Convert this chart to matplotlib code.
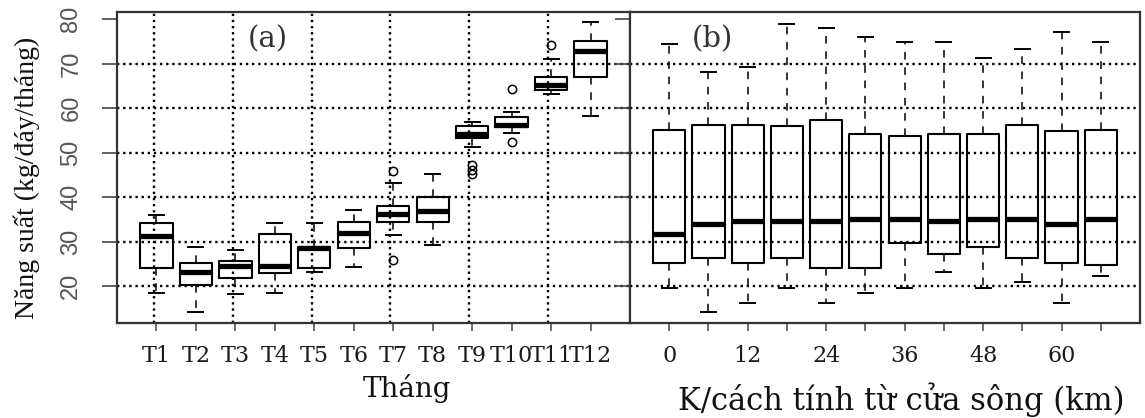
import matplotlib
matplotlib.use("Agg")
import matplotlib.pyplot as plt

# ---------------- data ----------------
months = ["T1", "T2", "T3", "T4", "T5", "T6", "T7", "T8", "T9", "T10", "T11", "T12"]
m_lo  = [18.4, 14.2, 18.2, 18.4, 23.2, 24.3, 31.5, 29.2, 51.3, 54.5, 63.1, 58.2]
m_q1  = [24.1, 20.2, 21.9, 23.0, 24.0, 28.5, 34.4, 34.5, 53.2, 55.7, 64.1, 66.9]
m_med = [31.2, 23.2, 24.4, 24.6, 28.5, 32.0, 36.3, 36.9, 54.2, 56.3, 65.2, 72.9]
m_q3  = [34.2, 25.2, 25.6, 31.8, 28.8, 34.3, 38.1, 40.0, 55.9, 58.0, 66.9, 75.1]
m_hi  = [36.0, 28.8, 28.2, 34.2, 34.2, 37.1, 43.2, 45.3, 56.9, 59.2, 71.0, 79.4]
m_fliers = [[], [], [], [], [], [], [45.9, 25.8], [], [47.2, 46.2, 45.3],
            [64.2, 52.3], [74.2], []]

dist_km = [0, 6, 12, 18, 24, 30, 36, 42, 48, 54, 60, 66]
dist_labels = ["0", "", "12", "", "24", "", "36", "", "48", "", "60", ""]
d_lo  = [19.5, 14.1, 16.3, 19.5, 16.3, 18.4, 19.5, 23.2, 19.5, 21.0, 16.3, 22.2]
d_q1  = [25.1, 26.4, 25.1, 26.4, 24.1, 24.1, 29.6, 27.1, 28.8, 26.4, 25.1, 24.7]
d_med = [31.7, 33.9, 34.7, 34.7, 34.7, 35.1, 35.1, 34.7, 35.1, 35.1, 33.9, 35.1]
d_q3  = [55.1, 56.2, 56.2, 56.0, 57.3, 54.2, 53.7, 54.2, 54.2, 56.2, 54.8, 55.1]
d_hi  = [74.5, 68.2, 69.3, 79.0, 77.9, 76.0, 74.9, 74.9, 71.2, 73.2, 77.2, 74.9]

y_grid = [20, 30, 40, 50, 60, 70]
y_ticks = [20, 30, 40, 50, 60, 70, 80]

# ---------------- figure ----------------
W, H = 1145, 418
fig = plt.figure(figsize=(W / 100, H / 100), dpi=100)
L, M, R = 117 / W, 630 / W, 1140 / W
B, T = 1 - 323 / H, 1 - 12 / H
axA = fig.add_axes([L, B, M - L, T - B])
axB = fig.add_axes([M, B, R - M, T - B])

dot = (0, (1.0, 1.6))
box_kw = dict(
    widths=0.82, capwidths=0.38, showfliers=True, patch_artist=False,
    boxprops=dict(color="black", linewidth=1.5),
    medianprops=dict(color="black", linewidth=3.8, solid_capstyle="butt"),
    whiskerprops=dict(color="black", linewidth=1.1, linestyle=(0, (5, 5))),
    capprops=dict(color="black", linewidth=1.4),
    flierprops=dict(marker="o", markerfacecolor="none", markeredgecolor="black",
                    markersize=6, markeredgewidth=1.1),
)


def stats(lo, q1, med, q3, hi, fl):
    return [dict(whislo=a, q1=b, med=c, q3=d, whishi=e, fliers=f)
            for a, b, c, d, e, f in zip(lo, q1, med, q3, hi, fl)]


posA = list(range(1, len(months) + 1))
posB = list(range(1, len(dist_km) + 1))

for ax in (axA, axB):
    for g in y_grid:
        ax.axhline(g, color="black", linestyle=dot, linewidth=1.7, zorder=0)

for p in posA[::2]:
    axA.axvline(p - 0.07, color="black", linestyle=dot, linewidth=1.7, zorder=0)

axA.bxp(stats(m_lo, m_q1, m_med, m_q3, m_hi, m_fliers), positions=posA, **box_kw)
axB.bxp(stats(d_lo, d_q1, d_med, d_q3, d_hi, [[]] * len(dist_km)), positions=posB, **box_kw)

for ax in (axA, axB):
    ax.set_xlim(0, 13)
    ax.set_ylim(11.7, 81.6)
    for s in ax.spines.values():
        s.set_color("#333333")
        s.set_linewidth(1.6)
    ax.tick_params(axis="x", length=6, width=1.2, color="#555555", pad=10,
                   labelsize=16, labelcolor="#1a1a1a")
    ax.set_yticks(y_ticks)

axA.set_xticks(posA)
axA.set_xticklabels(months, family="DejaVu Serif")
axB.set_xticks(posB)
axB.set_xticklabels(dist_labels, family="DejaVu Serif")

axA.tick_params(axis="y", length=11, width=1.2, color="#444444", pad=14,
                labelsize=17, labelcolor="#555555")
for lab in axA.get_yticklabels():
    lab.set_rotation(90)
    lab.set_va("center")
    lab.set_family(["Liberation Sans Narrow", "Liberation Sans"])

axB.tick_params(axis="y", length=11, width=1.2, color="#444444", labelleft=False)

axA.text(0.294, 0.913, "(a)", transform=axA.transAxes, ha="center", va="center",
         fontsize=21, family="DejaVu Serif", color="#333333")
axB.text(0.161, 0.913, "(b)", transform=axB.transAxes, ha="center", va="center",
         fontsize=21, family="DejaVu Serif", color="#333333")

fig.text(27 / W, 1 - 178 / H, "Năng suất (kg/đáy/tháng)", rotation=90,
         ha="center", va="center", fontsize=20, family="Liberation Serif", color="#111111")
fig.text(407 / W, 1 - 397 / H, "Tháng", ha="center", va="baseline",
         fontsize=20, family="DejaVu Serif", color="#111111")
fig.text(901 / W, 1 - 410 / H, "K/cách tính từ cửa sông (km)", ha="center", va="baseline",
         fontsize=22, family="DejaVu Serif", color="#111111")

fig.savefig("out.png", dpi=100)
